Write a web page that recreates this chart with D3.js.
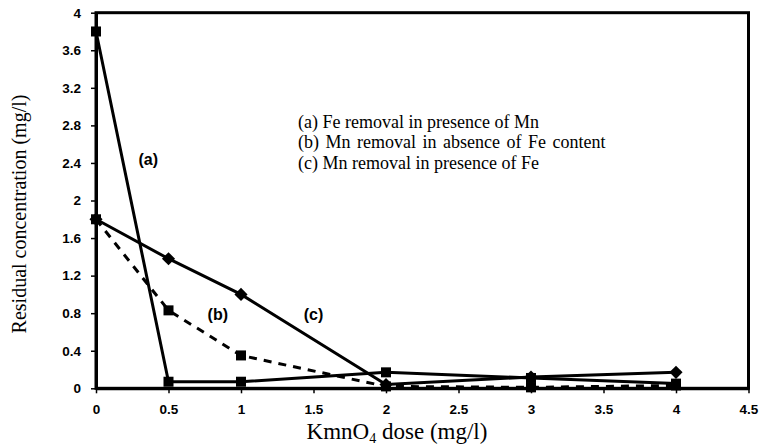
<!DOCTYPE html>
<html>
<head>
<meta charset="utf-8">
<script src="https://cdn.jsdelivr.net/npm/d3@7"></script>
<style>
body { margin: 0; background: #fff; }
svg { display: block; }
</style>
</head>
<body>
<svg id="chart" width="762" height="448"></svg>
<script>
var doses = [0, 0.5, 1, 2, 3, 4];
var feWithMn = [3.8, 0.07, 0.07, 0.17, 0.11, 0.05];     // (a)
var mnNoFe = [1.8, 0.83, 0.35, 0.02, 0.01, 0.03];        // (b)
var mnWithFe = [1.8, 1.38, 1.0, 0.04, 0.12, 0.17];       // (c)
var xTicks = [0, 0.5, 1, 1.5, 2, 2.5, 3, 3.5, 4, 4.5];
var yTicks = [0, 0.4, 0.8, 1.2, 1.6, 2, 2.4, 2.8, 3.2, 3.6, 4];
var legendLines = ["(a) Fe removal in presence of Mn",
  "(b) Mn removal in absence of Fe content",
  "(c) Mn removal in presence of Fe"];

var svg = d3.select("#chart");
// note: "top" is taken by window.top, so use plot* names
var plotL = 96, plotR = 748.5, plotT = 12.7, plotB = 388.3;

var x = d3.scaleLinear().domain([0, 4.5]).range([plotL, plotR]);
var y = d3.scaleLinear().domain([0, 4]).range([plotB, plotT]);

// frame
svg.append("rect")
  .attr("x", plotL).attr("y", plotT)
  .attr("width", plotR - plotL).attr("height", plotB - plotT)
  .attr("fill", "none").attr("stroke", "#000").attr("stroke-width", 3);

var xAxis = svg.append("g")
  .attr("transform", "translate(0," + plotB + ")")
  .call(d3.axisBottom(x).tickValues(xTicks).tickSize(5).tickSizeOuter(0)
    .tickFormat(d3.format("")));
var yAxis = svg.append("g")
  .attr("transform", "translate(" + plotL + ",0)")
  .call(d3.axisLeft(y).tickValues(yTicks).tickSize(5).tickSizeOuter(0)
    .tickFormat(d3.format("")));

[xAxis, yAxis].forEach(function(a) {
  a.select(".domain").attr("stroke-width", 3);
  a.selectAll(".tick line").attr("stroke-width", 1.5);
  a.selectAll(".tick text")
    .attr("font-family", "Liberation Sans, Arial, sans-serif")
    .attr("font-weight", "bold")
    .attr("font-size", 13.5)
    .attr("fill", "#000");
});
xAxis.selectAll(".tick text").attr("y", 16.5);
yAxis.selectAll(".tick text").attr("x", -15);

var line = d3.line()
  .x(function(d, i) { return x(doses[i]); })
  .y(function(d) { return y(d); });

// (b) dashed
svg.append("path").datum(mnNoFe)
  .attr("d", line).attr("fill", "none")
  .attr("stroke", "#000").attr("stroke-width", 3)
  .attr("stroke-dasharray", "8,7");
svg.append("g").selectAll("rect").data(mnNoFe).enter().append("rect")
  .attr("x", function(d, i) { return x(doses[i]) - 5; })
  .attr("y", function(d) { return y(d) - 5; })
  .attr("width", 10).attr("height", 10).attr("fill", "#000");

// (a)
svg.append("path").datum(feWithMn)
  .attr("d", line).attr("fill", "none")
  .attr("stroke", "#000").attr("stroke-width", 3);
svg.append("g").selectAll("rect").data(feWithMn).enter().append("rect")
  .attr("x", function(d, i) { return x(doses[i]) - 5; })
  .attr("y", function(d) { return y(d) - 5; })
  .attr("width", 10).attr("height", 10).attr("fill", "#000");

// (c)
svg.append("path").datum(mnWithFe)
  .attr("d", line).attr("fill", "none")
  .attr("stroke", "#000").attr("stroke-width", 3);
svg.append("g").selectAll("path").data(mnWithFe).enter().append("path")
  .attr("d", d3.symbol().type(d3.symbolDiamond2).size(110))
  .attr("transform", function(d, i) { return "translate(" + x(doses[i]) + "," + y(d) + ")"; })
  .attr("fill", "#000");

// curve labels
var tags = [["(a)", 0.36, 2.44], ["(b)", 0.84, 0.79], ["(c)", 1.5, 0.79]];
svg.append("g").selectAll("text").data(tags).enter().append("text")
  .attr("x", function(d) { return x(d[1]); })
  .attr("y", function(d) { return y(d[2]); })
  .attr("text-anchor", "middle")
  .attr("dy", "0.35em")
  .attr("font-family", "Liberation Sans, Arial, sans-serif")
  .attr("font-weight", "bold")
  .attr("font-size", 16)
  .text(function(d) { return d[0]; });

// legend
svg.append("g").selectAll("text").data(legendLines).enter().append("text")
  .attr("x", 298)
  .attr("y", function(d, i) { return 127.5 + i * 20.5; })
  .attr("font-family", "Liberation Serif, Times New Roman, serif")
  .attr("font-size", 18)
  .attr("word-spacing", function(d, i) { return i === 1 ? 2 : 0; })
  .text(function(d) { return d; });

// axis titles
var xt = svg.append("text")
  .attr("x", 397).attr("y", 439)
  .attr("text-anchor", "middle")
  .attr("font-family", "Liberation Serif, Times New Roman, serif")
  .attr("font-size", 23);
xt.append("tspan").text("KmnO");
xt.append("tspan").attr("font-size", 14).attr("dy", 4).text("4");
xt.append("tspan").attr("dy", -4).text(" dose (mg/l)");

svg.append("text")
  .attr("transform", "translate(26,214) rotate(-90)")
  .attr("text-anchor", "middle")
  .attr("font-family", "Liberation Serif, Times New Roman, serif")
  .attr("font-size", 20)
  .text("Residual concentration (mg/l)");
</script>
</body>
</html>
